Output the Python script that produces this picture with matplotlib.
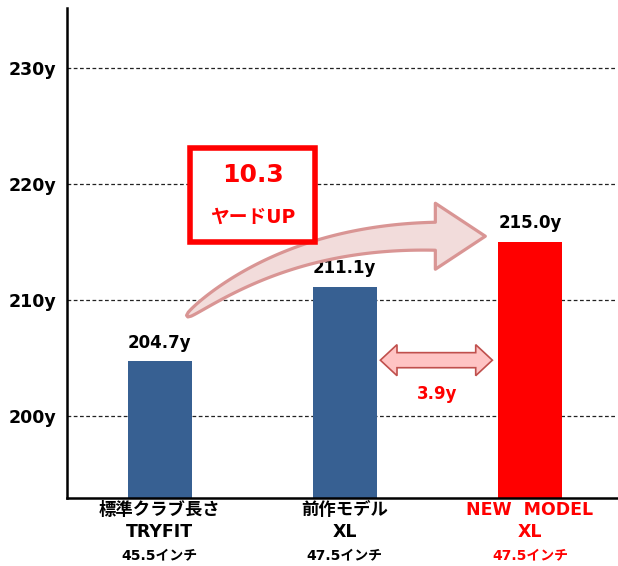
import numpy as np
import matplotlib
matplotlib.use("Agg")
import matplotlib.pyplot as plt
from matplotlib.patches import Polygon, Rectangle

plt.rcParams['font.family'] = ['DejaVu Sans', 'Noto Sans CJK JP']

# data
names = ["標準クラブ長さ", "前作モデル", "NEW  MODEL"]
models = ["TRYFIT", "XL", "XL"]
lengths = ["45.5インチ", "47.5インチ", "47.5インチ"]
distances = [204.7, 211.1, 215.0]
yticks = [200, 210, 220, 230]
gain_total = "10.3"
gain_new = "3.9y"

blue = "#376092"
red = "#FF0000"
bar_colors = [blue, blue, red]
label_colors = ["black", "black", red]

fig = plt.figure(figsize=(6.18, 5.66), dpi=100)
ax = fig.add_axes([0.1084, 0.1201, 0.890, 0.8657])

x = np.arange(len(distances))
ax.bar(x, distances, width=0.346, color=bar_colors, zorder=2)
ax.set_xlim(-0.5, 2.47)
ax.set_ylim(192.9, 235.2)

for yv in yticks:
    ax.axhline(yv, color="#222222", lw=0.9, ls=(0, (3, 2)), zorder=1)

ax.set_yticks(yticks)
ax.set_yticklabels([f"{v}y" for v in yticks], fontsize=12.5, fontweight="bold")
ax.tick_params(axis="y", length=0, pad=8)
ax.set_xticks([])
for s in ["top", "right"]:
    ax.spines[s].set_visible(False)
ax.spines["left"].set_linewidth(1.8)
ax.spines["bottom"].set_linewidth(1.8)

# value labels
for xi, v in zip(x, distances):
    ax.annotate(f"{v:.1f}y", (xi, v), xytext=(0, 7), textcoords="offset points",
                ha="center", va="bottom", fontsize=12, fontweight="bold")

# category labels
tr = ax.get_xaxis_transform()
for xi, n, m, l, c in zip(x, names, models, lengths, label_colors):
    ax.text(xi, -0.024, n, transform=tr, ha="center", va="center",
            fontsize=12.5, fontweight="bold", color=c, clip_on=False)
    ax.text(xi, -0.069, m, transform=tr, ha="center", va="center",
            fontsize=12.5, fontweight="bold", color=c, clip_on=False)
    ax.text(xi, -0.116, l, transform=tr, ha="center", va="center",
            fontsize=10, fontweight="bold", color=c, clip_on=False)

# curved tapered arrow (built in display space, drawn in data space)
fig.canvas.draw()
to_disp = ax.transData.transform
to_data = ax.transData.inverted().transform
p0, p1, p2 = to_disp([(0.149, 208.6), (0.705, 215.5), (1.489, 215.5)])
t = np.linspace(0, 1, 80)[:, None]
curve = (1 - t) ** 2 * p0 + 2 * (1 - t) * t * p1 + t ** 2 * p2
deriv = 2 * (1 - t) * (p1 - p0) + 2 * t * (p2 - p1)
tang = deriv / np.linalg.norm(deriv, axis=1, keepdims=True)
norm = np.column_stack([-tang[:, 1], tang[:, 0]])
half = 1.0 + 13.0 * t ** 0.5
upper = curve + norm * half
lower = curve - norm * half
tend, nend = tang[-1], norm[-1]
head = [p2 + nend * 33, p2 + tend * 50, p2 - nend * 33]
outline = np.vstack([upper, head, lower[::-1]])
ax.add_patch(Polygon(to_data(outline), closed=True, facecolor="#F2DCDB",
                     edgecolor="#D99594", lw=2.3, joinstyle="round", zorder=3))

# box with total gain
ax.add_patch(Rectangle((0.165, 215.0), 0.676, 8.1, facecolor="white",
                       edgecolor=red, lw=4, zorder=4))
ax.text(0.503, 220.8, gain_total, ha="center", va="center", fontsize=18,
        color=red, fontweight="bold", zorder=5)
ax.text(0.503, 217.1, "ヤードUP", ha="center", va="center", fontsize=13.5,
        color=red, fontweight="bold", zorder=5)

# double arrow between bar 2 and 3
x0, x1, yc = 1.192, 1.797, 204.8
hl, bh, hh = 0.09, 0.65, 1.34
pts = [(x0, yc), (x0 + hl, yc + hh), (x0 + hl, yc + bh), (x1 - hl, yc + bh),
       (x1 - hl, yc + hh), (x1, yc), (x1 - hl, yc - hh), (x1 - hl, yc - bh),
       (x0 + hl, yc - bh), (x0 + hl, yc - hh)]
ax.add_patch(Polygon(pts, closed=True, facecolor="#FFC4C4", edgecolor="#C0504D",
                     lw=1.2, zorder=3))
ax.text(1.5, 201.9, gain_new, ha="center", va="center", fontsize=12,
        color=red, fontweight="bold")

fig.savefig("out.png", dpi=100)
